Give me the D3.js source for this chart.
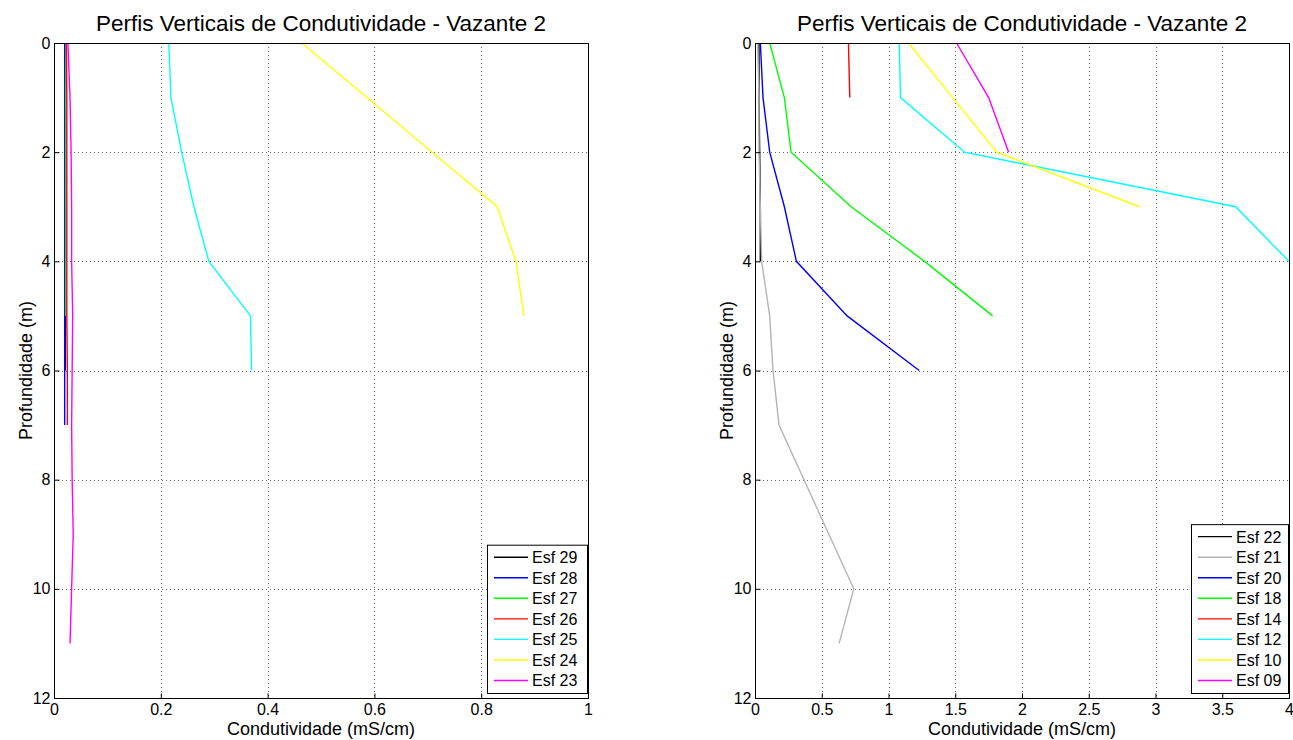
<!DOCTYPE html>
<html>
<head>
<meta charset="utf-8">
<script src="https://cdn.jsdelivr.net/npm/d3@7"></script>
<style>
  body { margin: 0; background: #fff; }
  text { font-family: "Liberation Sans", Arial, sans-serif; fill: #000; }
  .grid line { stroke: #666; stroke-dasharray: 1,3; stroke-width: 1; }
</style>
</head>
<body>
<svg id="chart" width="1293" height="740"></svg>
<script>
// depths (m) per profile and conductivity values (mS/cm)
const leftNames = ['Esf 29', 'Esf 28', 'Esf 27', 'Esf 26', 'Esf 25', 'Esf 24', 'Esf 23'];
const leftColors = ['#000000', '#0000ff', '#00ff00', '#ff0000', '#00ffff', '#ffff00', '#ff00ff'];
const leftDepths = [
  [0, 1, 2, 3, 4, 5, 6],
  [0, 1, 2, 3, 4, 5, 6, 7],
  [0, 1, 2, 3, 4, 5],
  [0, 1, 2, 3, 4, 5, 6, 7],
  [0, 1, 2, 3, 4, 5, 6],
  [0, 1, 2, 3, 4, 5],
  [0, 1, 2, 3, 4, 5, 6, 7, 8, 9, 10, 11]
];
const leftValues = [
  [0.021, 0.021, 0.021, 0.021, 0.021, 0.021, 0.021],
  [0.020, 0.020, 0.020, 0.020, 0.020, 0.020, 0.020, 0.020],
  [0.022, 0.022, 0.022, 0.022, 0.022, 0.022],
  [0.023, 0.024, 0.024, 0.024, 0.024, 0.024, 0.025, 0.025],
  [0.215, 0.219, 0.239, 0.262, 0.29, 0.368, 0.37],
  [0.464, 0.586, 0.708, 0.83, 0.865, 0.88],
  [0.026, 0.030, 0.032, 0.033, 0.033, 0.035, 0.034, 0.033, 0.034, 0.036, 0.033, 0.030]
];

const rightNames = ['Esf 22', 'Esf 21', 'Esf 20', 'Esf 18', 'Esf 14', 'Esf 12', 'Esf 10', 'Esf 09'];
const rightColors = ['#000000', '#b4b4b4', '#0000ff', '#00ff00', '#ff0000', '#00ffff', '#ffff00', '#ff00ff'];
const rightDepths = [
  [0, 1, 2, 3, 4],
  [0, 1, 2, 3, 4, 5, 6, 7, 8, 9, 10, 11],
  [0, 1, 2, 3, 4, 5, 6],
  [0, 1, 2, 3, 4, 5],
  [0, 1],
  [0, 1, 2, 3, 4],
  [0, 1, 2, 3],
  [0, 1, 2]
];
const rightValues = [
  [0.03, 0.03, 0.035, 0.04, 0.04],
  [0.02, 0.03, 0.03, 0.04, 0.05, 0.11, 0.135, 0.18, 0.367, 0.553, 0.74, 0.63],
  [0.04, 0.06, 0.11, 0.22, 0.31, 0.69, 1.23],
  [0.11, 0.22, 0.27, 0.72, 1.27, 1.78],
  [0.70, 0.71],
  [1.08, 1.09, 1.57, 3.6, 4.0],
  [1.15, 1.48, 1.81, 2.88],
  [1.51, 1.75, 1.90]
];

const xTicksLeft = [0, 0.2, 0.4, 0.6, 0.8, 1];
const xTicksRight = [0, 0.5, 1, 1.5, 2, 2.5, 3, 3.5, 4];
const yTicks = [0, 2, 4, 6, 8, 10, 12];

const svg = d3.select('#chart');
const plotTop = 43, plotBottom = 698;

function drawPanel(opts) {
  const x = d3.scaleLinear().domain(opts.xDomain).range([opts.left, opts.right]);
  const y = d3.scaleLinear().domain([0, 12]).range([plotTop, plotBottom]);
  const g = svg.append('g');

  // grid
  const grid = g.append('g').attr('class', 'grid');
  grid.selectAll('.gx').data(opts.xTicks.slice(1, -1)).enter().append('line')
      .attr('x1', (d) => Math.round(x(d)) + 0.5).attr('x2', (d) => Math.round(x(d)) + 0.5)
      .attr('y1', plotTop).attr('y2', plotBottom);
  grid.selectAll('.gy').data(yTicks.slice(1, -1)).enter().append('line')
      .attr('y1', (d) => Math.round(y(d)) + 0.5).attr('y2', (d) => Math.round(y(d)) + 0.5)
      .attr('x1', opts.left).attr('x2', opts.right);

  // lines
  const line = d3.line().x((d) => x(d[0])).y((d) => y(d[1]));
  opts.values.forEach(function(vals, i) {
    const pts = vals.map((v, j) => [v, opts.depths[i][j]]);
    g.append('path')
        .attr('d', line(pts))
        .attr('fill', 'none')
        .attr('stroke', opts.colors[i])
        .attr('stroke-width', 1.4);
  });

  // box
  g.append('rect')
      .attr('x', opts.left + 0.5).attr('y', plotTop + 0.5)
      .attr('width', opts.right - opts.left).attr('height', plotBottom - plotTop)
      .attr('fill', 'none').attr('stroke', '#000').attr('stroke-width', 1);

  // axes with inward ticks
  const xAxis = d3.axisBottom(x).tickValues(opts.xTicks).tickSize(-5).tickPadding(8)
      .tickFormat(d3.format('~g'));
  const gx = g.append('g').attr('transform', 'translate(0,' + (plotBottom + 0.5) + ')').call(xAxis);
  const yAxis = d3.axisLeft(y).tickValues(yTicks).tickSize(-5).tickPadding(4);
  const gy = g.append('g').attr('transform', 'translate(' + (opts.left + 0.5) + ',0)').call(yAxis);
  [gx, gy].forEach(function(a) {
    a.select('.domain').remove();
    a.selectAll('text').style('font-size', '16px').style('font-family', '"Liberation Sans", Arial, sans-serif');
  });
  gx.selectAll('text').attr('dy', '0.55em');

  // titles
  g.append('text')
      .attr('x', (opts.left + opts.right) / 2).attr('y', 31)
      .attr('text-anchor', 'middle').style('font-size', '22.5px')
      .text('Perfis Verticais de Condutividade - Vazante 2');
  g.append('text')
      .attr('x', (opts.left + opts.right) / 2).attr('y', 735)
      .attr('text-anchor', 'middle').style('font-size', '18px')
      .text('Condutividade (mS/cm)');
  g.append('text')
      .attr('transform', 'translate(' + (opts.left - 22) + ',' + ((plotTop + plotBottom) / 2) + ') rotate(-90)')
      .attr('text-anchor', 'middle').style('font-size', '18px')
      .text('Profundidade (m)');

  // legend
  const rowH = 20.55;
  const lw = opts.right - opts.legendLeft - 1;
  const lh = (opts.names.length - 1) * rowH + 25;
  const lg = g.append('g').attr('transform', 'translate(' + opts.legendLeft + ',' + (plotBottom - 5 - lh) + ')');
  lg.append('rect').attr('x', 0.5).attr('y', 0.5).attr('width', lw).attr('height', lh)
      .attr('fill', '#fff').attr('stroke', '#000');
  opts.names.forEach(function(n, i) {
    const cy = 12.5 + i * rowH;
    lg.append('line').attr('x1', 7).attr('x2', 41).attr('y1', cy).attr('y2', cy)
        .attr('stroke', opts.colors[i]).attr('stroke-width', 1.4);
    lg.append('text').attr('x', 45).attr('y', cy + 6).style('font-size', '16px').text(n);
  });
}

drawPanel({
  left: 54, right: 588, xDomain: [0, 1], xTicks: xTicksLeft,
  names: leftNames, colors: leftColors, depths: leftDepths, values: leftValues,
  legendLeft: 487
});
drawPanel({
  left: 755, right: 1289, xDomain: [0, 4], xTicks: xTicksRight,
  names: rightNames, colors: rightColors, depths: rightDepths, values: rightValues,
  legendLeft: 1191
});
</script>
</body>
</html>
